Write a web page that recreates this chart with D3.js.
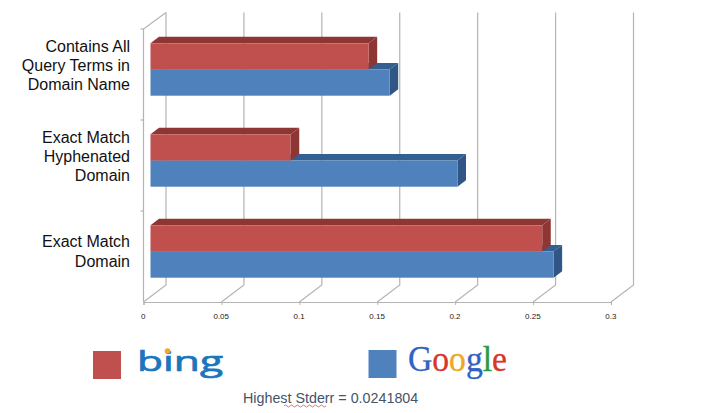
<!DOCTYPE html>
<html><head><meta charset="utf-8">
<script src="https://cdn.jsdelivr.net/npm/d3@7/dist/d3.min.js"></script>
<style>html,body{margin:0;padding:0;background:#fff}svg{display:block}</style>
</head><body><svg id="c" width="714" height="413"></svg>
<script>
const categories = ["Contains All|Query Terms in|Domain Name", "Exact Match|Hyphenated|Domain", "Exact Match|Domain"];
const bingValues = [0.14, 0.09, 0.2514];
const googleValues = [0.1535, 0.197, 0.2587];
const tickValues = [0, 0.05, 0.1, 0.15, 0.2, 0.25, 0.3];
const seriesNames = ["bing", "Google"];
const googleColors = ["#2f62c4", "#d8362a", "#eda91e", "#2f62c4", "#2c9a3f", "#d8362a"];

const svg = d3.select("#c");
const x = d3.scaleLinear().domain([0, 0.3]).range([143.5, 611]);
const y = d3.scaleBand().domain(categories).range([29, 302]);
const grid = "#b4b4b4", depthX = 22.5, depthY = 17;

// walls
const g = svg.append("g").attr("fill", "none").attr("stroke", grid).attr("stroke-width", 1.2);
tickValues.forEach(t => {
  const px = x(t);
  g.append("path").attr("d", `M${px},302L${px + depthX},285V12.5`);
});
g.append("path").attr("d", `M143.5,302V29L${143.5 + depthX},12.5`);
y.domain().forEach((c, i) => {
  g.append("path").attr("d", `M140.5,${29 + y.step() * i}H143.5`);
});

// value axis
const axis = d3.axisBottom(x).tickValues(tickValues).tickSize(3).tickFormat(d => String(d));
const ax = svg.append("g").attr("transform", "translate(0,302)").call(axis);
ax.select(".domain").attr("stroke", grid).attr("stroke-width", 1.2);
ax.selectAll(".tick line").attr("stroke", grid);
ax.selectAll("text").attr("font-family", "Liberation Sans").attr("font-size", 8)
  .attr("fill", "#222").attr("y", 11).attr("dx", -0.7);

// bars
const bar0 = 150.5, bh = 26.2, dx = 8.5, dy = 6.5;
const bx = v => bar0 + (x(v) - x(0));
function drawBar(v, top, front, topFace, side) {
  const r = bx(v), b = svg.append("g");
  b.append("path").attr("fill", topFace)
    .attr("d", `M${bar0},${top}l${dx},${-dy}H${r + dx}L${r},${top}Z`);
  b.append("path").attr("fill", side)
    .attr("d", `M${r},${top}l${dx},${-dy}v${bh}l${-dx},${dy}Z`);
  b.append("rect").attr("x", bar0).attr("y", top).attr("width", r - bar0).attr("height", bh).attr("fill", front);
}
categories.forEach((c, i) => {
  const mid = y(c) + y.bandwidth() / 2 - 5;
  drawBar(googleValues[i], mid, "#4f81bd", "#34608f", "#2f5684");
  drawBar(bingValues[i], mid - bh, "#c0504d", "#8e3634", "#8e3634");
});

// category labels
categories.forEach(c => {
  const lines = c.split("|"), cy = y(c) + y.bandwidth() / 2 - 5 - (lines.length - 2) * 4;
  const t = svg.append("text").attr("font-family", "Liberation Sans").attr("font-size", 16)
    .attr("fill", "#111").attr("text-anchor", "end");
  lines.forEach((l, j) => t.append("tspan").attr("x", 130)
    .attr("y", cy + 5.5 + (j - (lines.length - 1) / 2) * 19.4).text(l));
});

// legend
svg.append("rect").attr("x", 93).attr("y", 351).attr("width", 28).attr("height", 28).attr("fill", "#c0504d");
svg.append("rect").attr("x", 368.5).attr("y", 350).attr("width", 28).attr("height", 28).attr("fill", "#4f81bd");
svg.append("text").attr("x", 137).attr("y", 370.5).attr("font-family", "Open Sans").attr("font-size", 27)
  .attr("fill", "#1a76bd").attr("stroke", "#1a76bd").attr("stroke-width", 0.7)
  .attr("textLength", 86).attr("lengthAdjust", "spacingAndGlyphs").text(seriesNames[0]);
svg.append("circle").attr("cx", 167.5).attr("cy", 351).attr("r", 2.8).attr("fill", "#f0a92e");
const gt = svg.append("text").attr("x", 408).attr("y", 371).attr("font-family", "Liberation Serif")
  .attr("font-size", 36).attr("stroke-width", 0.35).attr("textLength", 99).attr("lengthAdjust", "spacingAndGlyphs");
seriesNames[1].split("").forEach((ch, i) => gt.append("tspan").attr("fill", googleColors[i]).attr("stroke", googleColors[i]).text(ch));

// footer
svg.append("text").attr("x", 243).attr("y", 403).attr("font-family", "Liberation Sans").attr("font-size", 14.3)
  .attr("fill", "#44546a").text("Highest Stderr = 0.0241804");
svg.append("path").attr("fill", "none").attr("stroke", "#d9534f").attr("stroke-width", 0.8)
  .attr("d", "M284,406" + "q1.5,-2 3,0 t3,0 t3,0 t3,0 t3,0 t3,0 t3,0 t3,0 t3,0 t3,0 t3,0 t3,0 t3,0 t3,0");
</script></body></html>
